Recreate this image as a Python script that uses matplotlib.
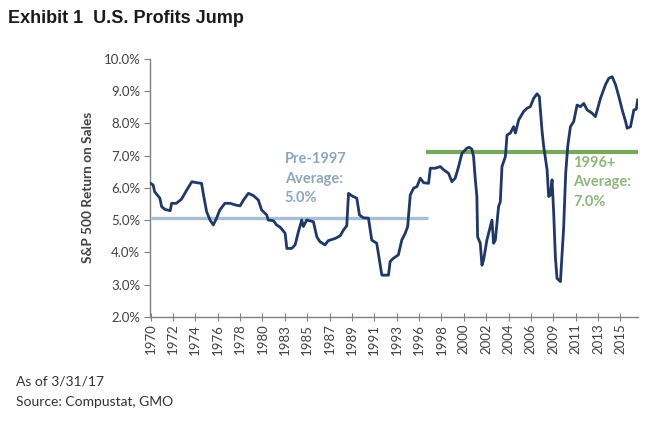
import matplotlib
matplotlib.use("Agg")
import matplotlib.pyplot as plt

# S&P 500 return on sales (%)
years = [1970.0, 1970.25, 1970.4, 1970.9, 1971.07, 1971.4, 1971.9, 1972.04, 1972.5, 1973.0,
         1973.5, 1974.0, 1974.46, 1974.94, 1975.1, 1975.43, 1975.76, 1976.08, 1976.4, 1976.7,
         1977.2, 1977.7, 1978.2, 1978.67, 1979.0, 1979.47, 1979.96, 1980.44, 1980.76, 1981.25,
         1981.4, 1981.9, 1982.2, 1982.55, 1983.03, 1983.2, 1983.67, 1984.0, 1984.32, 1984.64,
         1984.8, 1985.12, 1985.77, 1986.1, 1986.4, 1986.9, 1987.2, 1987.88, 1988.36, 1988.68,
         1989.0, 1989.17, 1989.5, 1989.97, 1990.23, 1990.6, 1991.1, 1991.27, 1991.42, 1991.9,
         1992.27, 1992.4, 1993.04, 1993.2, 1993.5, 1994.0, 1994.33, 1994.66, 1994.9, 1995.15,
         1995.47, 1995.8, 1996.12, 1996.44, 1996.92, 1997.09, 1997.57, 1998.06, 1998.38, 1998.86,
         1999.18, 1999.5, 1999.83, 2000.15, 2000.63, 2000.85, 2001.12, 2001.28, 2001.45, 2001.6,
         2001.67, 2001.93, 2002.09, 2002.25, 2002.57, 2002.9, 2003.06, 2003.22, 2003.39, 2003.7,
         2003.87, 2004.03, 2004.36, 2004.52, 2004.84, 2005.16, 2005.33, 2005.65, 2006.13, 2006.45,
         2006.78, 2007.1, 2007.43, 2007.65, 2007.9, 2008.07, 2008.4, 2008.55, 2008.72, 2008.88,
         2009.04, 2009.2, 2009.36, 2009.69, 2010.0, 2010.2, 2010.4, 2010.66, 2010.98, 2011.3,
         2011.63, 2011.95, 2012.27, 2012.75, 2013.08, 2013.57, 2014.05, 2014.37, 2014.7, 2015.03,
         2015.35, 2015.67, 2016.0, 2016.15, 2016.48, 2016.8, 2017.03, 2017.17]
ros = [6.14, 6.09, 5.88, 5.68, 5.42, 5.33, 5.29, 5.52, 5.52, 5.65,
       5.93, 6.19, 6.16, 6.14, 5.83, 5.26, 5.0, 4.85, 5.06, 5.31,
       5.52, 5.52, 5.47, 5.44, 5.62, 5.83, 5.76, 5.62, 5.31, 5.16,
       5.0, 4.98, 4.85, 4.78, 4.59, 4.12, 4.12, 4.23, 4.64, 5.0,
       4.8, 5.0, 4.95, 4.48, 4.33, 4.23, 4.36, 4.43, 4.51, 4.69,
       4.82, 5.83, 5.75, 5.68, 5.16, 5.07, 5.06, 4.69, 4.38, 4.28,
       3.55, 3.29, 3.29, 3.71, 3.81, 3.92, 4.38, 4.59, 4.8, 5.78,
       5.99, 6.04, 6.3, 6.16, 6.14, 6.61, 6.61, 6.66, 6.56, 6.45,
       6.19, 6.3, 6.66, 7.07, 7.23, 7.26, 7.2, 6.97, 6.25, 5.73,
       4.48, 4.28, 3.6, 3.76, 4.38, 4.8, 5.0, 4.28, 4.38, 5.42,
       5.57, 6.66, 6.97, 7.64, 7.7, 7.9, 7.7, 8.11, 8.37, 8.47,
       8.52, 8.78, 8.92, 8.83, 7.8, 7.28, 6.56, 5.73, 5.78, 6.25,
       5.21, 3.86, 3.19, 3.09, 4.75, 6.45, 7.3, 7.9, 8.06, 8.57,
       8.52, 8.62, 8.42, 8.32, 8.21, 8.78, 9.2, 9.4, 9.45, 9.2,
       8.83, 8.42, 8.06, 7.85, 7.9, 8.42, 8.44, 8.73]

# averages: (start, end, level)
pre_avg = (1970.0, 1996.9, 5.05)
post_avg = (1996.7, 2017.2, 7.12)

# category labels, one every 26 months starting Jan 1970
tick_labels = ["1970", "1972", "1974", "1976", "1978", "1980", "1983", "1985", "1987", "1989",
               "1991", "1993", "1996", "1998", "2000", "2002", "2004", "2006", "2009", "2011",
               "2013", "2015"]

NAVY = "#1f3864"
BLUE_AVG = "#a8bfd2"
GREEN_AVG = "#79a85c"
TXT = "#404040"

plt.rcParams.update({"font.family": ["Lato", "DejaVu Sans"], "font.size": 9})

fig = plt.figure(figsize=(6.54, 4.21), dpi=100)
ax = fig.add_axes([0.2294, 0.2477, 0.7461, 0.6122])

ax.hlines(pre_avg[2], pre_avg[0], pre_avg[1], color=BLUE_AVG, lw=2.4, zorder=2)
ax.hlines(post_avg[2], post_avg[0], post_avg[1], color=GREEN_AVG, lw=3.0, zorder=2)
ax.plot(years, ros, color=NAVY, lw=2.0, zorder=3)

ax.set_xlim(1969.95, 2017.2)
ax.set_ylim(2, 10)
ax.set_yticks(range(2, 11))
ax.set_yticklabels([f"{v:.1f}%" for v in range(2, 11)], color=TXT, fontsize=9.5)
ax.set_xticks([1970 + k * 26 / 12 for k in range(len(tick_labels))])
ax.set_xticklabels(tick_labels, rotation=90, color=TXT, fontsize=9.5)
ax.tick_params(axis="y", direction="out", length=4, color="#808080", pad=3)
ax.tick_params(axis="x", direction="inout", length=6, color="#808080", pad=2)
for s in ("top", "right"):
    ax.spines[s].set_visible(False)
for s in ("left", "bottom"):
    ax.spines[s].set_color("#808080")
    ax.spines[s].set_linewidth(1.0)

ax.set_ylabel("S&P 500 Return on Sales", fontsize=9.8, fontweight="bold", color=TXT, labelpad=7)

ax.text(1983.0, 7.1, "Pre-1997\nAverage:\n5.0%", color="#8ea6bc", fontsize=10.5, fontweight="bold",
        va="top", ha="left", linespacing=1.5)
ax.text(2010.95, 7.0, "1996+\nAverage:\n7.0%", color="#8fb67a", fontsize=10.5, fontweight="bold",
        va="top", ha="left", linespacing=1.5)

fig.text(0.012, 0.955, "Exhibit 1  U.S. Profits Jump", fontsize=13, fontweight="bold",
         family=["Liberation Sans", "DejaVu Sans"], color="#1a1a1a", va="center")
fig.text(0.025, 0.093, "As of 3/31/17", fontsize=10, color="#333333", va="center")
fig.text(0.025, 0.045, "Source: Compustat, GMO", fontsize=10, color="#333333", va="center")

fig.savefig("out.png", dpi=100)
